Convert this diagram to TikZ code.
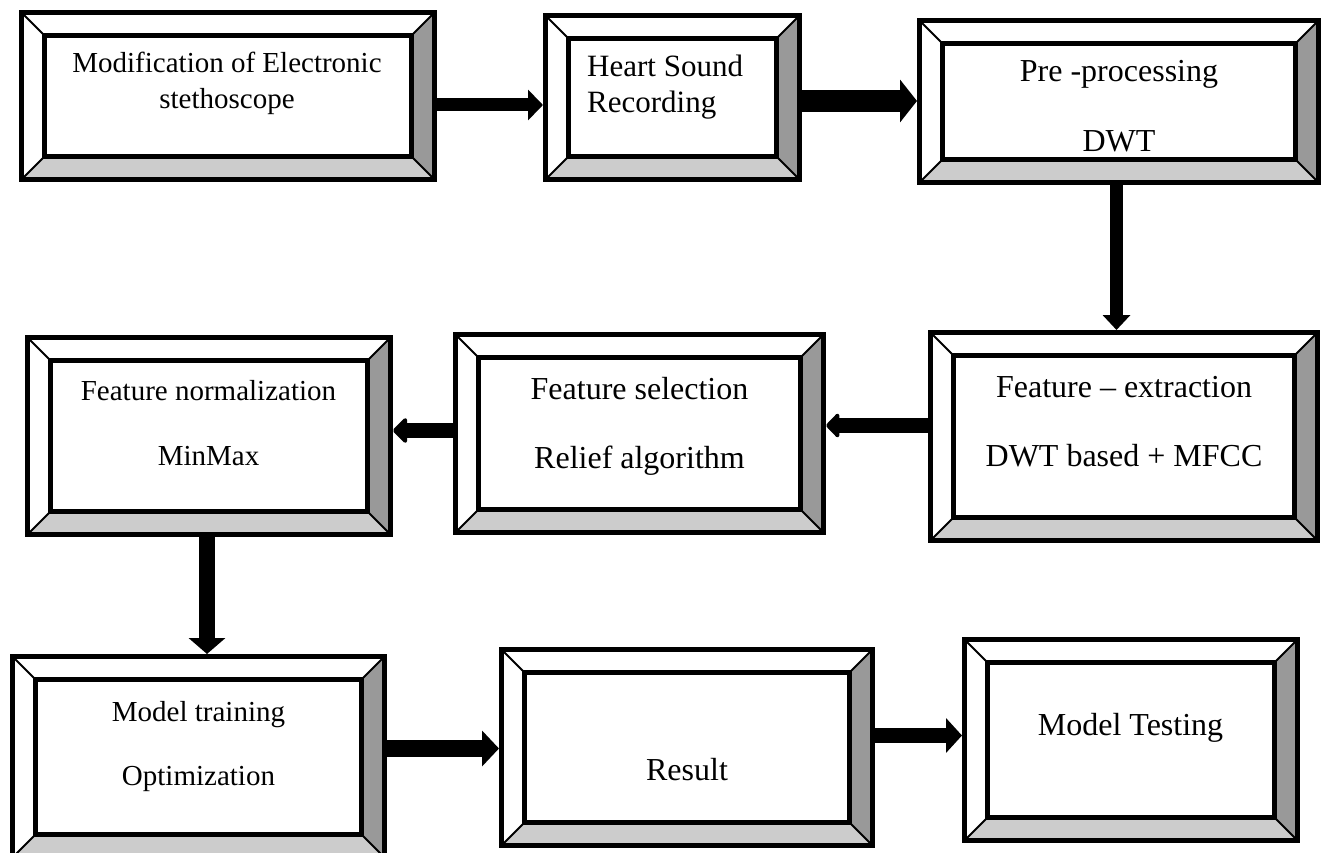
\documentclass[tikz,border=0pt]{standalone}
\usepackage{fontspec}
\setmainfont{Liberation Serif}
\usetikzlibrary{arrows.meta}
\definecolor{bevdark}{HTML}{999999}
\definecolor{bevlight}{HTML}{CCCCCC}
\newcommand{\bev}{23pt}
\tikzset{
  bevelbox/.style={draw, line width=5pt, fill=white, inner sep=0pt,
    path picture={
      \path (path picture bounding box.south west) coordinate (sw)
            (path picture bounding box.south east) coordinate (se)
            (path picture bounding box.north east) coordinate (ne)
            (path picture bounding box.north west) coordinate (nw);
      \path ([shift={(\bev,\bev)}]sw) coordinate (isw)
            ([shift={(-\bev,\bev)}]se) coordinate (ise)
            ([shift={(-\bev,-\bev)}]ne) coordinate (ine)
            ([shift={(\bev,-\bev)}]nw) coordinate (inw);
      \fill[bevdark] (ne) -- (se) -- (ise) -- (ine) -- cycle;
      \fill[bevlight] (sw) -- (se) -- (ise) -- (isw) -- cycle;
      \draw[line width=1.8pt] (sw) -- (isw) (se) -- (ise) (ne) -- (ine) (nw) -- (inw);
      \draw[line width=4.5pt] (isw) rectangle (ine);
    }},
  boxtxt/.style={font=\fontsize{32}{38}\selectfont, align=center, inner sep=0pt, anchor=north},
  boxtxtsmall/.style={boxtxt, font=\fontsize{29}{36}\selectfont},
  flow/.style n args={3}{line width=#1, -{Triangle[width=#2, length=#3]}},
  flowround/.style n args={3}{line width=#1, -{Triangle[width=#2, length=#3, round]}}
}
\begin{document}
\begin{tikzpicture}[x=1pt,y=-1pt]
\useasboundingbox (0,0) rectangle (1328,853);
% first row
\node[bevelbox, minimum width=413pt, minimum height=167pt] (stetho) at (228,96) {};
\node[bevelbox, minimum width=254pt, minimum height=164pt] (heart) at (672.5,97.5) {};
\node[bevelbox, minimum width=399pt, minimum height=162pt] (preproc) at (1119,101.5) {};
\node[boxtxtsmall] (stetho-txt) at (227,52) {Modification of Electronic\\stethoscope};
\node[boxtxt, font=\fontsize{31}{36}\selectfont, align=left, anchor=north west] (heart-txt) at (587,55) {Heart Sound\\Recording};
\node[boxtxt] (preproc-txt) at (1119,60) {Pre -processing\\[32pt]DWT};
% second row
\node[bevelbox, minimum width=387pt, minimum height=208pt] (extract) at (1124,436.5) {};
\node[bevelbox, minimum width=368pt, minimum height=198pt] (select) at (639.5,433.5) {};
\node[bevelbox, minimum width=363pt, minimum height=197pt] (norm) at (209,436) {};
\node[boxtxt] (extract-txt) at (1124,376) {Feature -- extraction\\[31pt]DWT based + MFCC};
\node[boxtxt] (select-txt) at (639.5,377) {Feature selection\\[31pt]Relief algorithm};
\node[boxtxtsmall] (norm-txt) at (208.5,380) {Feature normalization\\[29pt]MinMax};
% third row
\node[bevelbox, minimum width=372pt, minimum height=201pt] (train) at (198.5,757) {};
\node[bevelbox, minimum width=371pt, minimum height=196pt] (result) at (687,747.5) {};
\node[bevelbox, minimum width=333pt, minimum height=201pt] (test) at (1131,740) {};
\node[boxtxtsmall] (train-txt) at (198.5,701) {Model training\\[28pt]Optimization};
\node[boxtxt] (result-txt) at (687,758) {Result};
\node[boxtxt] (test-txt) at (1130.5,713) {Model Testing};
% arrows
\draw[flow={13pt}{30pt}{15pt}] ([yshift=-9pt]stetho.east) -- ([yshift=-7.5pt]heart.west);
\draw[flow={22pt}{42pt}{17pt}] ([yshift=-3.5pt]heart.east) -- ([yshift=0.5pt]preproc.west);
\draw[flow={13pt}{27pt}{15pt}] ([xshift=-2.5pt]preproc.south) -- ([xshift=-7.5pt]extract.north);
\draw[flowround={15pt}{28pt}{14pt}] ([yshift=11pt]extract.west) -- ([yshift=8pt]select.east);
\draw[flowround={15pt}{29pt}{15pt}] ([yshift=3pt]select.west) -- ([yshift=5.5pt]norm.east);
\draw[flow={16pt}{36pt}{16pt}] ([xshift=-2pt]norm.south) -- ([xshift=8.5pt]train.north);
\draw[flow={17pt}{35pt}{17pt}] ([yshift=8.5pt]train.east) -- ([yshift=-1pt]result.west);
\draw[flow={15pt}{34pt}{16pt}] ([yshift=12pt]result.east) -- ([yshift=4.5pt]test.west);
\end{tikzpicture}
\end{document}
